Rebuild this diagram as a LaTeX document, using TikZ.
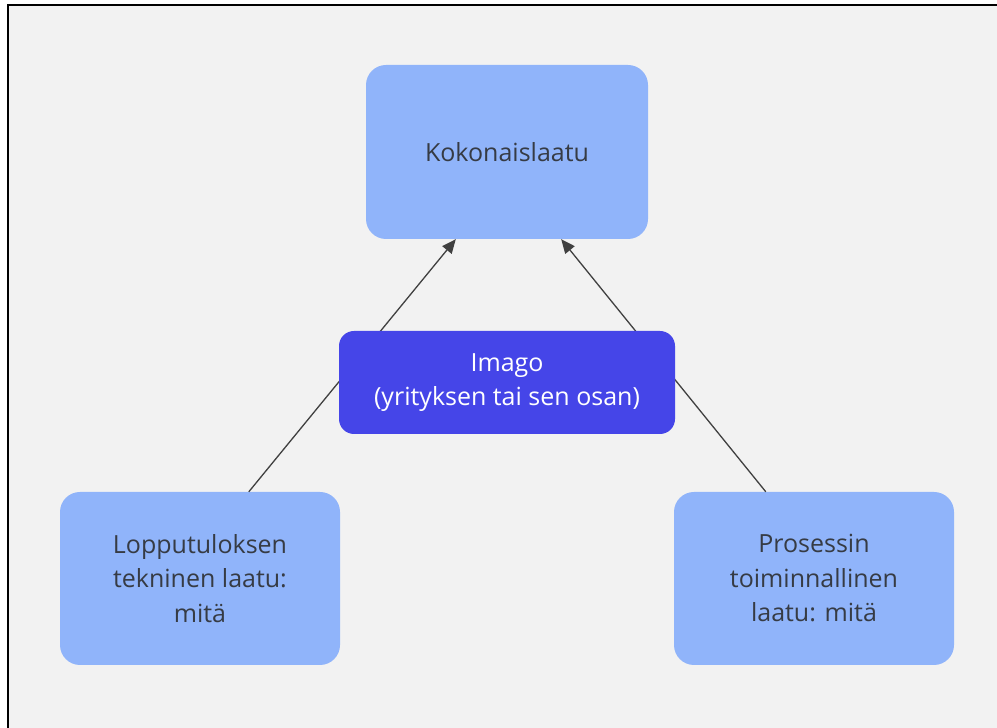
\documentclass[tikz,border=0pt]{standalone}
\usepackage{fontspec}
\setmainfont{Open Sans}
\usetikzlibrary{arrows.meta}
\definecolor{paper}{HTML}{F2F2F2}
\definecolor{softblue}{HTML}{90B4FA}
\definecolor{deepblue}{HTML}{4545E8}
\definecolor{inkgray}{HTML}{363B44}
\definecolor{linkgray}{HTML}{404040}
\tikzset{
  box/.style={rounded corners=20pt, inner sep=0pt, align=center,
    font=\fontsize{25}{34.5}\selectfont},
  lightbox/.style={box, fill=softblue, text=inkgray},
  darkbox/.style={box, fill=deepblue, text=white, rounded corners=15pt},
  link/.style={draw=linkgray, line width=1.3pt,
    -{Triangle[length=14pt,width=12pt]}},
}
\begin{document}
\begin{tikzpicture}[x=1pt,y=1pt]
  \useasboundingbox (0,0) rectangle (997,728);
  % canvas and its frame
  \fill[white] (0,0) rectangle (997,728);
  \fill[paper] (8,0) rectangle (997,723);
  \draw[black, line width=2.2pt] (8,0) -- (8,723) -- (997,723);

  % boxes
  \node[lightbox, minimum width=282pt, minimum height=174pt] (total)
    at (507,576) {Kokonaislaatu};
  \node[lightbox, minimum width=280pt, minimum height=173pt] (tech)
    at (200,149.5) {Lopputuloksen\\tekninen laatu:\\mitä};
  \node[lightbox, minimum width=280pt, minimum height=173pt] (func)
    at (814,149.5) {Prosessin\\toiminnallinen\\laatu: mitä};

  % connectors, passing behind the image box
  \draw[link] ([xshift=189pt]tech.north west) -- ([xshift=90pt]total.south west);
  \draw[link] ([xshift=92pt]func.north west) -- ([xshift=-87pt]total.south east);

  \node[darkbox, minimum width=336pt, minimum height=103pt] (image)
    at (507,345.5) {Imago\\(yrityksen tai sen osan)};
\end{tikzpicture}
\end{document}
